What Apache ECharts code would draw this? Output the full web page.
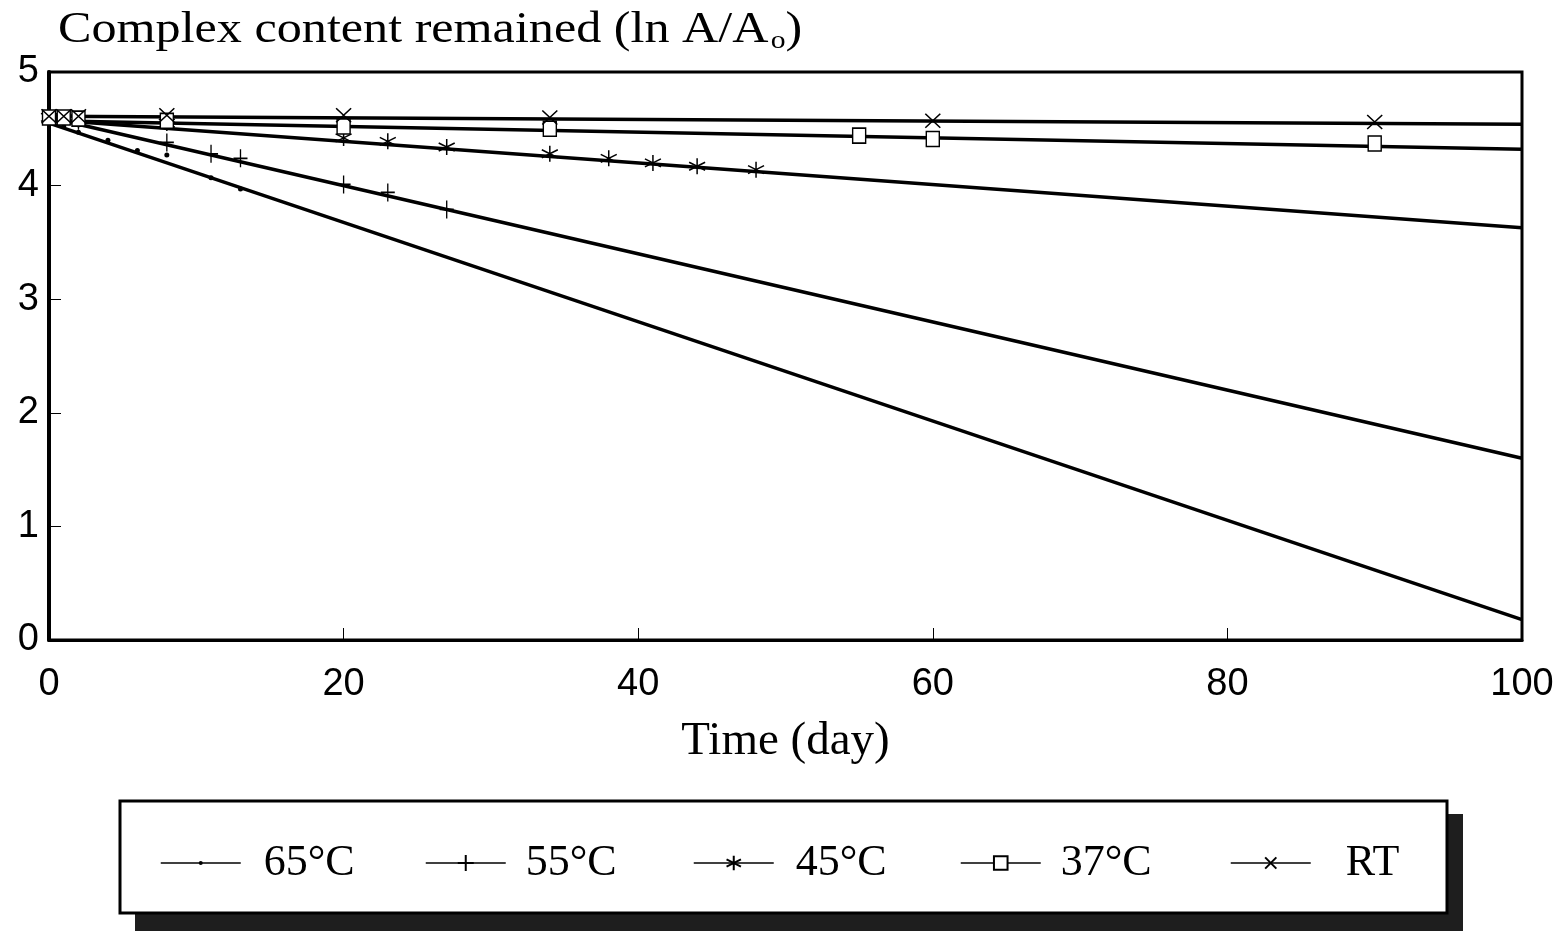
<!DOCTYPE html>
<html>
<head>
<meta charset="utf-8">
<script src="https://cdn.jsdelivr.net/npm/echarts@6/dist/echarts.min.js"></script>
<style>
html,body{margin:0;padding:0;background:#fff;}
#chart{width:1562px;height:931px;}
</style>
</head>
<body>
<div id="chart"></div>
<script>
// ---- data ----
const xTicks = [0, 20, 40, 60, 80, 100];
const yTicks = [0, 1, 2, 3, 4, 5];

const names = ['65°C', '55°C', '45°C', '37°C', 'RT'];

const days65 = [0, 1, 2, 4, 6, 8, 11, 13];
const vals65 = [4.60, 4.52, 4.47, 4.40, 4.31, 4.27, 4.07, 3.97];

const days55 = [0, 1, 2, 8, 11, 13, 20, 23, 27];
const vals55 = [4.60, 4.58, 4.57, 4.38, 4.28, 4.24, 4.01, 3.94, 3.79];

const days45 = [0, 1, 2, 8, 20, 23, 27, 34, 38, 41, 44, 48];
const vals45 = [4.60, 4.59, 4.58, 4.55, 4.42, 4.39, 4.34, 4.28, 4.24, 4.20, 4.17, 4.14];

const days37 = [0, 1, 2, 8, 20, 34, 55, 60, 90];
const vals37 = [4.60, 4.60, 4.59, 4.57, 4.52, 4.50, 4.44, 4.41, 4.37];

const daysRT = [0, 1, 2, 8, 20, 34, 60, 90];
const valsRT = [4.61, 4.61, 4.61, 4.62, 4.62, 4.60, 4.57, 4.56];

// fitted regression lines (value at day 0 and day 100)
const fitDays = [0, 100];
const fit65 = [4.55, 0.18];
const fit55 = [4.60, 1.60];
const fit45 = [4.58, 3.63];
const fit37 = [4.57, 4.32];
const fitRT = [4.61, 4.54];

// ---- chart ----
const zip = (xs, ys) => xs.map((x, i) => [x, ys[i]]);

const SYM_PLUS = 'path://M5,0 L5,10 M0,5 L10,5';
const SYM_STAR = 'path://M5,0 L5,10 M0.7,2.5 L9.3,7.5 M0.7,7.5 L9.3,2.5';
const SYM_X = 'path://M0,0 L10,10 M0,10 L10,0';
const SYM_DOT = 'circle';

const serif = '"Liberation Serif", "DejaVu Serif", serif';
const sans = '"Liberation Sans", Arial, sans-serif';

function pointSeries(name, data, symbol, size, fill, bw) {
  return {
    name: name, type: 'line', data: data,
    symbol: symbol, symbolSize: size, showSymbol: true,
    lineStyle: { opacity: 0, width: 0 },
    itemStyle: { color: fill, borderColor: '#000', borderWidth: bw },
    z: 4, animation: false, silent: true
  };
}
function fitSeries(data) {
  return {
    type: 'line', data: data, symbol: 'none',
    lineStyle: { color: '#000', width: 3.5 },
    z: 3, animation: false, silent: true
  };
}
function legendFor(name, left, padLeft, itemH) {
  return {
    data: [name], left: left, top: 836,
    itemWidth: 80, itemHeight: itemH, selectedMode: false,
    lineStyle: { color: '#000', width: 1.5, opacity: 1 },
    textStyle: { fontFamily: serif, fontSize: 44, color: '#000', padding: [0, 0, 0, padLeft] }
  };
}

const chart = echarts.init(document.getElementById('chart'), null, { renderer: 'canvas' });
chart.setOption({
  backgroundColor: '#fff',
  animation: false,
  grid: { left: 49, right: 40, top: 72, bottom: 291, show: true, borderColor: '#000', borderWidth: 3, backgroundColor: 'transparent' },
  xAxis: {
    type: 'value', min: xTicks[0], max: xTicks[xTicks.length - 1], interval: 20,
    name: 'Time (day)', nameLocation: 'middle', nameGap: 78,
    nameTextStyle: { fontFamily: serif, fontSize: 47, color: '#000' },
    axisLine: { lineStyle: { color: '#000', width: 3 } },
    axisTick: { inside: true, length: 12, lineStyle: { color: '#000', width: 1 } },
    axisLabel: { fontFamily: sans, fontSize: 38, color: '#000', margin: 26 },
    splitLine: { show: false }
  },
  yAxis: {
    type: 'value', min: yTicks[0], max: yTicks[yTicks.length - 1], interval: 1,
    axisLine: { show: true, lineStyle: { color: '#000', width: 4 } },
    axisTick: { show: true, inside: true, length: 12, lineStyle: { color: '#000', width: 1 } },
    axisLabel: { fontFamily: sans, fontSize: 38, color: '#000', margin: 10 },
    splitLine: { show: false }
  },
  legend: [
    legendFor(names[0], 155, 18, 5),
    legendFor(names[1], 420, 15, 20),
    legendFor(names[2], 688, 17, 18),
    legendFor(names[3], 955, 15, 17),
    legendFor(names[4], 1225, 30, 14)
  ],
  graphic: [
    { type: 'rect', z: -10, shape: { x: 135, y: 814, width: 1328, height: 130 }, style: { fill: '#1e1e1e' } },
    { type: 'rect', z: -9, shape: { x: 120, y: 801, width: 1327, height: 112 }, style: { fill: '#fff', stroke: '#000', lineWidth: 3 } },
    {
      type: 'text', x: 58, y: 6, scaleX: 1.14, scaleY: 1, z: 10,
      style: {
        text: 'Complex content remained (ln A/A{sub|o})',
        font: '44px ' + serif, fill: '#000',
        rich: { sub: { fontFamily: serif, fontSize: 26, verticalAlign: 'bottom', padding: [22, 0, 0, 2], fill: '#000' } }
      }
    }
  ],
  series: [
    fitSeries(zip(fitDays, fit65)),
    fitSeries(zip(fitDays, fit55)),
    fitSeries(zip(fitDays, fit45)),
    fitSeries(zip(fitDays, fit37)),
    fitSeries(zip(fitDays, fitRT)),
    pointSeries(names[0], zip(days65, vals65), SYM_DOT, 5, '#000', 0),
    pointSeries(names[1], zip(days55, vals55), SYM_PLUS, [14, 18], '#000', 1.5),
    pointSeries(names[2], zip(days45, vals45), SYM_STAR, [16, 16], '#000', 1.5),
    pointSeries(names[3], zip(days37, vals37), 'rect', [13, 15], '#fff', 1.5),
    pointSeries(names[4], zip(daysRT, valsRT), SYM_X, [15, 14], '#000', 1.5)
  ]
});
</script>
</body>
</html>
